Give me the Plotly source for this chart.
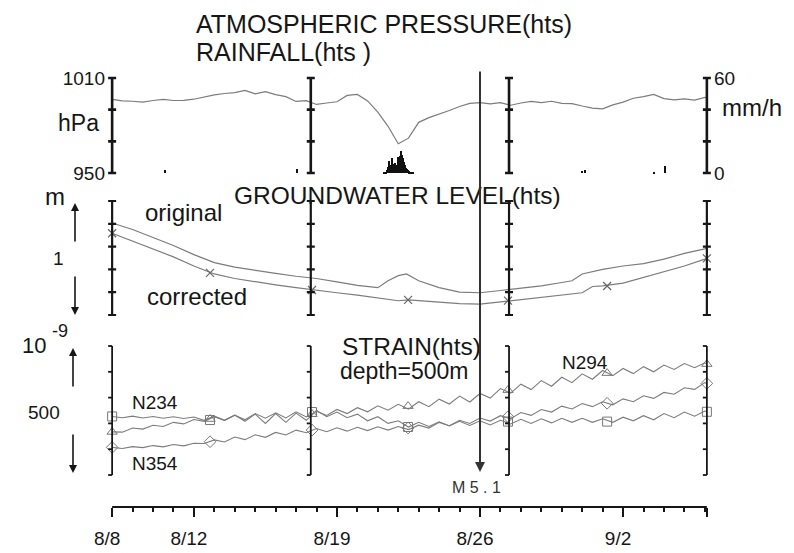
import plotly.graph_objects as go

# ---------------- data ----------------
date_labels = ["8/8", "8/12", "8/19", "8/26", "9/2"]
date_label_days = [0, 4, 11, 18, 25]          # days after 8/8
x_end_day = 29.1
frame_days = [0, 9.72, 19.42, 29.1]           # positions of the scale bars
marker_days = [0, 4.79, 9.78, 14.48, 19.37, 24.22, 29.1]
quake_day = 18
quake_label = "M 5 . 1"

# half-day sampling grid (days after 8/8)
days_grid = [i * 0.5 for i in range(59)] + [29.1]

pressure_hpa = [
    996.5, 995.5, 995.3, 994.8, 995.8, 996.5, 995.8, 995.9, 996.6, 998.0,
    999.3, 1000.2, 1000.8, 1002.2, 1000.0, 1001.4, 999.5, 998.2, 995.2, 995.7,
    993.3, 994.2, 995.0, 999.0, 999.6, 995.5, 988.5, 979.5, 968.5, 972.0,
    982.0, 985.0, 987.5, 989.5, 992.0, 994.0, 994.4, 993.6, 994.4, 992.8,
    994.2, 995.2, 994.4, 995.3, 994.0, 993.8, 992.3, 991.0, 990.5, 993.0,
    994.8, 997.2, 998.2, 999.6, 997.0, 996.2, 996.8, 996.0, 997.8, 997.2,
]

rain_burst_start = 13.30                      # hourly values from this day
rain_burst_mm = [0.3, 0.6, 1.0, 1.6, 2.0, 4.0, 7.6, 5.0, 4.0, 6.5, 9.5, 5.5,
                 4.5, 6.3, 4.5, 5.0, 10.0, 7.5, 8.0, 11.0, 14.0, 11.5, 9.5,
                 7.0, 6.0, 5.0, 3.5, 2.5, 2.0, 1.6, 1.2, 1.0, 0.6, 0.4, 0.3]
rain_spot_days = [2.6, 9.05, 23.0, 23.15, 26.5, 27.05]
rain_spot_mm = [1.8, 2.5, 1.5, 1.8, 1.0, 4.5]

gw_orig_days = [0, 1, 2, 3, 4, 5, 6, 7, 8, 9, 10, 11, 12, 13, 13.5, 14, 14.4,
                15, 16, 17, 18, 19, 20, 21, 22, 22.5, 23, 24, 25, 26, 27, 28, 29, 29.1]
gw_orig_m = [0.807, 0.75, 0.68, 0.61, 0.53, 0.46, 0.42, 0.39, 0.365, 0.34,
             0.32, 0.29, 0.26, 0.24, 0.30, 0.345, 0.36, 0.30, 0.24, 0.20,
             0.195, 0.215, 0.235, 0.255, 0.285, 0.30, 0.36, 0.40, 0.43, 0.45,
             0.49, 0.54, 0.58, 0.585]
gw_corr_days = [0, 1, 2, 3, 4, 5, 6, 7, 8, 9, 10, 11, 12, 13, 14, 14.5,
                15, 16, 17, 18, 19, 20, 21, 22, 23, 23.5, 24, 25, 26, 27, 28, 29, 29.1]
gw_corr_m = [0.717, 0.65, 0.58, 0.51, 0.43, 0.36, 0.32, 0.29, 0.265, 0.24,
             0.215, 0.195, 0.175, 0.15, 0.125, 0.132, 0.125, 0.115, 0.10, 0.095,
             0.115, 0.14, 0.16, 0.18, 0.195, 0.25, 0.255, 0.28, 0.33, 0.38,
             0.43, 0.49, 0.497]
gw_corr_marker_m = [0.717, 0.37, 0.219, 0.132, 0.126, 0.254, 0.497]

strain_n234 = [
    227, 222, 228, 221, 227, 220, 226, 219, 225, 212,
    228, 212, 232, 208, 236, 200, 238, 204, 240, 212,
    250, 226, 244, 222, 236, 210, 226, 200, 210, 186,
    204, 188, 206, 190, 208, 192, 210, 194, 212, 198,
    216, 200, 218, 202, 220, 204, 220, 204, 218, 204,
    224, 210, 230, 214, 238, 222, 244, 228, 248, 245,
]
strain_n294 = [
    167, 166, 182, 178, 193, 188, 204, 198, 215, 208,
    226, 212, 232, 214, 238, 220, 241, 221, 245, 225,
    247, 231, 254, 238, 261, 245, 268, 251, 274, 255,
    284, 265, 294, 275, 306, 283, 316, 298, 335, 317,
    352, 331, 366, 344, 379, 358, 392, 371, 405, 385,
    413, 393, 420, 400, 426, 409, 432, 416, 435, 430,
]
strain_n354 = [
    107, 103, 110, 106, 114, 109, 118, 113, 123, 122,
    136, 128, 147, 137, 156, 146, 165, 155, 174, 164,
    180, 168, 183, 170, 185, 172, 187, 174, 188, 176,
    193, 182, 204, 191, 212, 200, 221, 209, 230, 218,
    242, 231, 254, 244, 267, 256, 277, 265, 284, 272,
    295, 284, 307, 297, 320, 313, 338, 332, 358, 355,
]
n234_marker = [227, 213, 244, 186, 207, 207, 245]
n294_marker = [167, 217, 236, 267, 329, 395, 430]
n354_marker = [107, 129, 174, 182, 226, 278, 355]

# ---------------- layout geometry ----------------
W, H = 794, 553
ML, MR, MT, MB = 106, 81, 60, 46
PW, PH = W - ML - MR, H - MT - MB
Y0 = H - MB  # pixel row of the bottom of plot area

FONT = "Liberation Sans, Arial, Helvetica, sans-serif"
INK = "#161616"
LINE = "#7c7c7c"


def pxx(px):
    return (px - ML) / PW


def pxy(py):
    return (Y0 - py) / PH


def panel(lo, hi, px_hi, px_lo, pad):
    ppu = (px_lo - px_hi) / (hi - lo)
    top = px_hi - pad * ppu
    bot = px_lo + pad * ppu
    return [pxy(bot), pxy(top)], [lo - pad, hi + pad]


p_dom, p_rng = panel(950, 1010, 78, 173, 2)
r_dom, r_rng = panel(0, 60, 78, 173, 2)
g_dom, g_rng = panel(0, 1, 201, 315, 0.03)
s_dom, s_rng = panel(0, 500, 346, 475, 12)

fig = go.Figure()

# pressure & rainfall
fig.add_trace(go.Scatter(x=days_grid, y=pressure_hpa, mode="lines",
                         line=dict(color=LINE, width=1.2), yaxis="y"))
rain_x = [rain_burst_start + k / 24 for k in range(len(rain_burst_mm))] + rain_spot_days
rain_y = rain_burst_mm + rain_spot_mm
fig.add_trace(go.Bar(x=rain_x, y=rain_y, width=0.05, marker=dict(color="#111", line=dict(width=0)),
                     yaxis="y2"))

# groundwater
fig.add_trace(go.Scatter(x=gw_orig_days, y=gw_orig_m, mode="lines",
                         line=dict(color=LINE, width=1.2), yaxis="y3"))
fig.add_trace(go.Scatter(x=gw_corr_days, y=gw_corr_m, mode="lines",
                         line=dict(color=LINE, width=1.2), yaxis="y3"))
fig.add_trace(go.Scatter(x=marker_days, y=gw_corr_marker_m, mode="markers",
                         marker=dict(symbol="x-thin-open", size=8, color="#666",
                                     line=dict(color="#666", width=1.2)),
                         yaxis="y3", cliponaxis=False))

# strain
for vals, mvals, sym in [(strain_n234, n234_marker, "square-open"),
                         (strain_n294, n294_marker, "triangle-up-open"),
                         (strain_n354, n354_marker, "diamond-open")]:
    fig.add_trace(go.Scatter(x=days_grid, y=vals, mode="lines",
                             line=dict(color=LINE, width=1.1), yaxis="y4"))
    fig.add_trace(go.Scatter(x=marker_days, y=mvals, mode="markers",
                             marker=dict(symbol=sym, size=9, color="#777",
                                         line=dict(color="#777", width=1)),
                             yaxis="y4", cliponaxis=False))

# ---------------- scale bars (shapes) ----------------
shapes = []


def vbar(xd, yref, lo, hi, ticks, width, left_only=False, half=4):
    shapes.append(dict(type="line", xref="x", yref=yref, x0=xd, x1=xd, y0=lo, y1=hi,
                       line=dict(color=INK, width=width)))
    for t in ticks:
        shapes.append(dict(type="line", xref="x", yref=yref, xsizemode="pixel", xanchor=xd,
                           x0=-half, x1=0 if left_only else half, y0=t, y1=t,
                           line=dict(color=INK, width=width)))


for fd in frame_days:
    vbar(fd, "y", 950, 1010, [950, 970, 990, 1010], 2.6)
    vbar(fd, "y3", 0, 1, [0, 0.2, 0.4, 0.6, 0.8, 1.0], 2.2)
    vbar(fd, "y4", 0, 500, [0, 100, 200, 300, 400, 500], 1.8, left_only=True)

# time axis line
shapes.append(dict(type="line", xref="x", yref="paper", x0=0, x1=x_end_day, y0=0, y1=0,
                   line=dict(color=INK, width=2)))

# ---------------- text annotations ----------------
ann = []


def txt(s, px, py, size, xanchor="left", color=INK):
    ann.append(dict(text=s, x=pxx(px), y=pxy(py), xref="paper", yref="paper",
                    xanchor=xanchor, yanchor="middle", showarrow=False,
                    font=dict(family=FONT, size=size, color=color)))


def arrow(px, tip_py, tail_py, width=1.6):
    ann.append(dict(text="", x=pxx(px), y=pxy(tip_py), xref="paper", yref="paper",
                    ax=0, ay=tail_py - tip_py, showarrow=True, arrowhead=2,
                    arrowsize=1, arrowwidth=width, arrowcolor=INK,
                    standoff=0, startstandoff=0))


txt("ATMOSPHERIC PRESSURE(hts)", 194, 24, 25)
txt("RAINFALL(hts )", 194, 52, 25)
txt("hPa", 56, 123, 23)
txt("mm/h", 720, 108, 24)
txt("GROUNDWATER LEVEL(hts)", 232, 195, 24.5)
txt("original", 143, 213, 24)
txt("corrected", 145, 296, 24)
txt("m", 43, 196, 24)
txt("1", 51, 258, 19)
txt("STRAIN(hts)", 340, 346, 24.5)
txt("depth=500m", 338, 371, 23)
txt("10", 20, 345, 22)
txt("-9", 50, 331, 18)
txt("500", 26, 413, 19)
txt("N234", 130, 402, 19)
txt("N354", 130, 463, 19)
txt("N294", 560, 362, 19)
txt(quake_label, 450, 487, 16, color="#333")

arrow(75, 203, 243)
arrow(75, 315, 275)
arrow(73, 348, 388)
arrow(73, 473, 433)

# earthquake marker line
ann.append(dict(text="", x=quake_day, xref="x", y=pxy(472), yref="paper",
                ax=0, ay=70 - 472, showarrow=True, arrowhead=2, arrowsize=1,
                arrowwidth=2, arrowcolor="#333", standoff=0, startstandoff=0))

axis_common = dict(showgrid=False, zeroline=False, showline=False, fixedrange=True,
                   automargin=False)
tick_font = dict(family=FONT, size=19, color=INK)

fig.update_layout(
    width=W, height=H,
    margin=dict(l=ML, r=MR, t=MT, b=MB, pad=0, autoexpand=False),
    paper_bgcolor="white", plot_bgcolor="white",
    showlegend=False,
    bargap=0,
    shapes=shapes,
    annotations=ann,
    xaxis=dict(range=[-0.3, 29.4], domain=[0, 1], anchor="free", position=0,
               tickvals=date_label_days + [x_end_day], ticktext=date_labels + [""],
               ticks="outside", ticklen=9, tickwidth=2, tickcolor=INK,
               minor=dict(dtick=1, tick0=0, ticks="outside", ticklen=4,
                          tickwidth=1.5, tickcolor=INK, showgrid=False),
               tickfont=tick_font, ticklabelstandoff=5, ticklabelshift=-5,
               **axis_common),
    yaxis=dict(domain=p_dom, range=p_rng, anchor="x",
               tickvals=[950, 1010], ticktext=["950", "1010"], ticks="",
               tickfont=tick_font, **axis_common),
    yaxis2=dict(domain=r_dom, range=r_rng, overlaying="y", side="right", anchor="x",
                tickvals=[0, 60], ticktext=["0", "60"], ticks="",
                tickfont=tick_font, **axis_common),
    yaxis3=dict(domain=g_dom, range=g_rng, anchor="x", visible=False, **axis_common),
    yaxis4=dict(domain=s_dom, range=s_rng, anchor="x", visible=False, **axis_common),
)

fig.write_html("out.html")
